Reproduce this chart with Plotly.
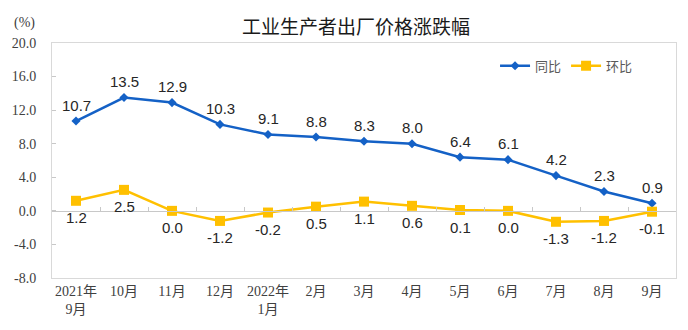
import plotly.graph_objects as go

# Monthly producer price index change, %
months = ["2021年<br>9月", "10月", "11月", "12月", "2022年<br>1月", "2月", "3月",
          "4月", "5月", "6月", "7月", "8月", "9月"]
yoy = [10.7, 13.5, 12.9, 10.3, 9.1, 8.8, 8.3, 8.0, 6.4, 6.1, 4.2, 2.3, 0.9]   # 同比
mom = [1.2, 2.5, 0.0, -1.2, -0.2, 0.5, 1.1, 0.6, 0.1, 0.0, -1.3, -1.2, -0.1]  # 环比
y_ticks = [-8.0, -4.0, 0.0, 4.0, 8.0, 12.0, 16.0, 20.0]

BLUE = "#1461c6"
GOLD = "#ffc000"
FRAME = "#d9d9d9"
AXIS = "#c8c8c8"
SERIF = "Liberation Serif, Noto Sans CJK SC, serif"
SANS = "Liberation Sans, Arial, sans-serif"
LABEL_FONT = dict(family=SANS, size=15, color="#262626")

y_min, y_max = y_ticks[0], y_ticks[-1]
x_range = [-0.5, len(months) - 0.5]

fig = go.Figure()

fig.add_trace(go.Scatter(
    x=months, y=yoy, name="同比", mode="lines+markers",
    line=dict(color=BLUE, width=2.5),
    marker=dict(symbol="diamond", size=7, color=BLUE),
))
fig.add_trace(go.Scatter(
    x=months, y=mom, name="环比", mode="lines+markers",
    line=dict(color=GOLD, width=2.5),
    marker=dict(symbol="square", size=10, color=GOLD),
))
# carrier for the zero-level category axis (line with boundary ticks)
fig.add_trace(go.Scatter(
    x=months, y=[None] * len(months), xaxis="x2", mode="lines",
    showlegend=False, hoverinfo="skip",
))

# value labels: 同比 above its points, 环比 below
annotations = []
for m, v in zip(months, yoy):
    annotations.append(dict(
        x=m, y=v, text=f"{v:.1f}", showarrow=False,
        xanchor="center", yanchor="middle", yshift=16, font=LABEL_FONT,
    ))
for m, v in zip(months, mom):
    annotations.append(dict(
        x=m, y=v, text=f"{v:.1f}", showarrow=False,
        xanchor="center", yanchor="middle", yshift=-17, font=LABEL_FONT,
    ))
annotations.append(dict(
    text="(%)", xref="paper", yref="paper",
    x=(24 - 52) / 624, y=(278 - 23) / 235,
    xanchor="center", yanchor="middle", showarrow=False,
    font=dict(family=SERIF, size=14, color="#404040"),
))

fig.update_layout(
    width=688, height=330,
    margin=dict(l=52, r=12, t=43, b=52),
    paper_bgcolor="white", plot_bgcolor="white",
    title=dict(
        text="工业生产者出厂价格涨跌幅",
        font=dict(family="Noto Sans CJK SC", size=19, color="#1a1a1a"),
        xref="container", x=356 / 688, xanchor="center",
        yref="container", y=1 - 27 / 330, yanchor="middle",
    ),
    xaxis=dict(
        type="category", categoryarray=months, range=x_range,
        showline=True, mirror=True, linecolor=FRAME, linewidth=1,
        showgrid=False, zeroline=False, ticks="",
        tickfont=dict(family=SERIF, size=14, color="#404040"),
    ),
    xaxis2=dict(
        type="category", categoryarray=months, range=x_range,
        overlaying="x", anchor="free", side="bottom",
        position=(0 - y_min) / (y_max - y_min),
        showline=True, linecolor=AXIS, linewidth=1,
        ticks="inside", ticklen=4, tickcolor=AXIS, tickson="boundaries",
        showticklabels=False, showgrid=False, zeroline=False,
    ),
    yaxis=dict(
        range=[y_min, y_max], tickvals=y_ticks,
        ticktext=[f"{v:.1f}" for v in y_ticks],
        showline=True, mirror=True, linecolor=FRAME, linewidth=1,
        ticks="inside", ticklen=4, tickcolor=AXIS,
        showgrid=False, zeroline=False, ticklabelstandoff=12,
        tickfont=dict(family=SERIF, size=14, color="#404040"),
    ),
    legend=dict(
        orientation="h", x=0.71, xanchor="left", y=0.903, yanchor="middle",
        font=dict(family="Noto Sans CJK SC", size=13, color="#595959"),
        bgcolor="rgba(0,0,0,0)", itemwidth=30,
    ),
    annotations=annotations,
    showlegend=True,
)

fig.write_html("out.html")
